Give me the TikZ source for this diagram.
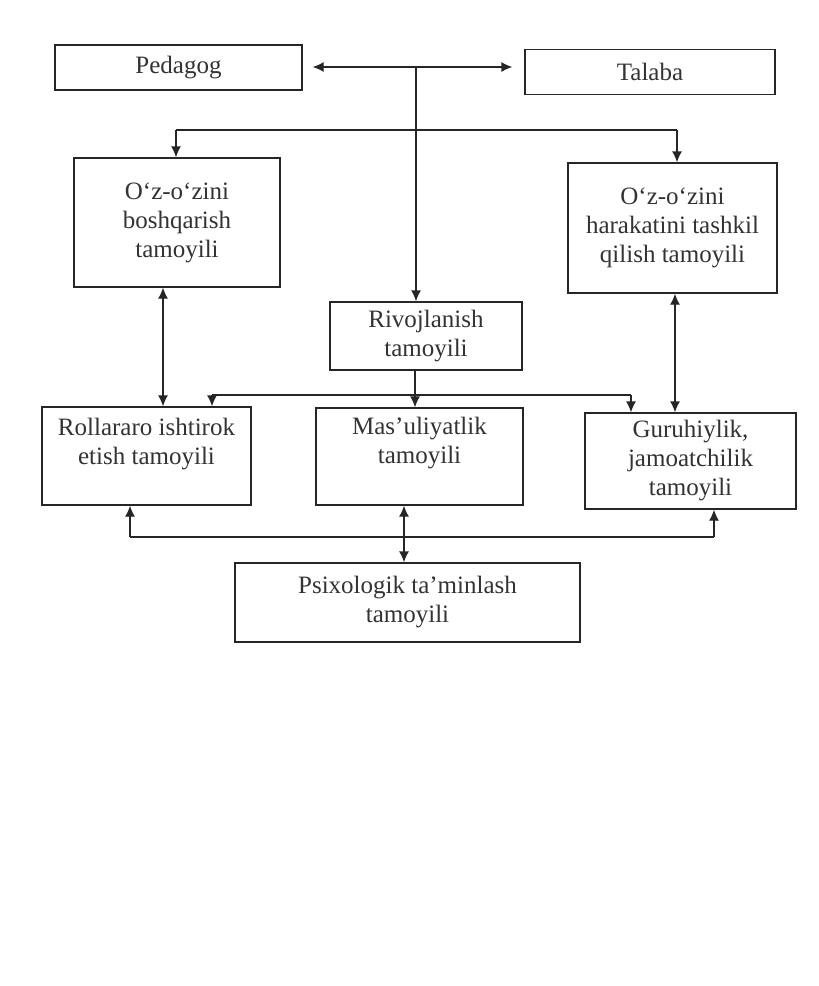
\documentclass[tikz,border=0pt]{standalone}
\usepackage{fontspec}
\setmainfont{Liberation Serif}
\usetikzlibrary{arrows.meta}
\begin{document}
\begin{tikzpicture}[x=1pt,y=-1pt,
  box/.style={draw=black!85, line width=1.3pt, rectangle, inner sep=0pt},
  txt/.style={align=center, text=black!80, font=\fontsize{25}{29}\selectfont, inner sep=0pt},
  conn/.style={draw=black!85, line width=1.3pt},
  tip/.style={-{Latex[length=11pt,width=10pt]}},
  tips/.style={{Latex[length=11pt,width=10pt]}-{Latex[length=11pt,width=10pt]}}]
\useasboundingbox[fill=white] (0,0) rectangle (819,986);
% boxes
\node[box, minimum width=247pt, minimum height=45pt] (ped) at (178.5,67.5) {};
\node[box, minimum width=250pt, minimum height=45pt] (tal) at (650,72) {};
\node[box, minimum width=206pt, minimum height=129pt] (lb) at (177,222.5) {};
\node[box, minimum width=209pt, minimum height=130pt] (rb) at (672.5,228) {};
\node[box, minimum width=192pt, minimum height=68pt] (riv) at (426,336) {};
\node[box, minimum width=209pt, minimum height=98pt] (rol) at (146.5,456) {};
\node[box, minimum width=207pt, minimum height=97pt] (mas) at (419.5,456.5) {};
\node[box, minimum width=211pt, minimum height=96pt] (gur) at (690.5,461) {};
\node[box, minimum width=345pt, minimum height=79pt] (psi) at (407.5,602.5) {};
% texts
\node[txt] (tped) at (ped.center) {Pedagog};
\node[txt] (ttal) at (tal.center) {Talaba};
\node[txt] (tlb) at (lb.center) {O‘z-o‘zini\\boshqarish\\tamoyili};
\node[txt] (trb) at (rb.center) {O‘z-o‘zini\\harakatini tashkil\\qilish tamoyili};
\node[txt] (triv) at (riv.center) {Rivojlanish\\tamoyili};
\node[txt, anchor=north] (trol) at ([yshift=-12pt]rol.north) {Rollararo ishtirok\\etish tamoyili};
\node[txt, anchor=north] (tmas) at ([yshift=-10pt]mas.north) {Mas’uliyatlik\\tamoyili};
\node[txt] (tgur) at (gur.center) {Guruhiylik,\\jamoatchilik\\tamoyili};
\node[txt] (tpsi) at (psi.center) {Psixologik ta’minlash\\tamoyili};
% coordinates
\coordinate (top) at (416,67);
\coordinate (hl) at (176,130);
\coordinate (hr) at (677,130);
\coordinate (ml) at (212,395);
\coordinate (mr) at (631,395);
\coordinate (bl) at (130,537);
\coordinate (br) at (714,537);
% connectors
\draw[conn, tip, shorten >=10pt] (top) -- (top -| ped.east);
\draw[conn, tip, shorten >=12pt] (top) -- (top -| tal.west);
\draw[conn, tip] (top) -- (top |- riv.north);
\draw[conn] (hl) -- (hr);
\draw[conn, tip] (hl) -- (hl |- lb.north);
\draw[conn, tip] (hr) -- (hr |- rb.north);
\draw[conn, tips] ([xshift=-14pt]lb.south) -- ([xshift=-14pt]lb.south |- rol.north);
\draw[conn, tips] ([xshift=2.5pt]rb.south) -- ([xshift=2.5pt]rb.south |- gur.north);
\draw[conn, tip] ([xshift=-11pt]riv.south) -- ([xshift=-11pt]riv.south |- mas.north);
\draw[conn] (ml) -- (mr);
\draw[conn, tip] (ml) -- (ml |- rol.north);
\draw[conn, tip] (mr) -- (mr |- gur.north);
\draw[conn] (bl) -- (br);
\draw[conn, tip] (bl) -- (bl |- rol.south);
\draw[conn, tip] (br) -- (br |- gur.south);
\draw[conn, tips] ([xshift=-15.5pt]mas.south) -- ([xshift=-15.5pt]mas.south |- psi.north);
\end{tikzpicture}
\end{document}
